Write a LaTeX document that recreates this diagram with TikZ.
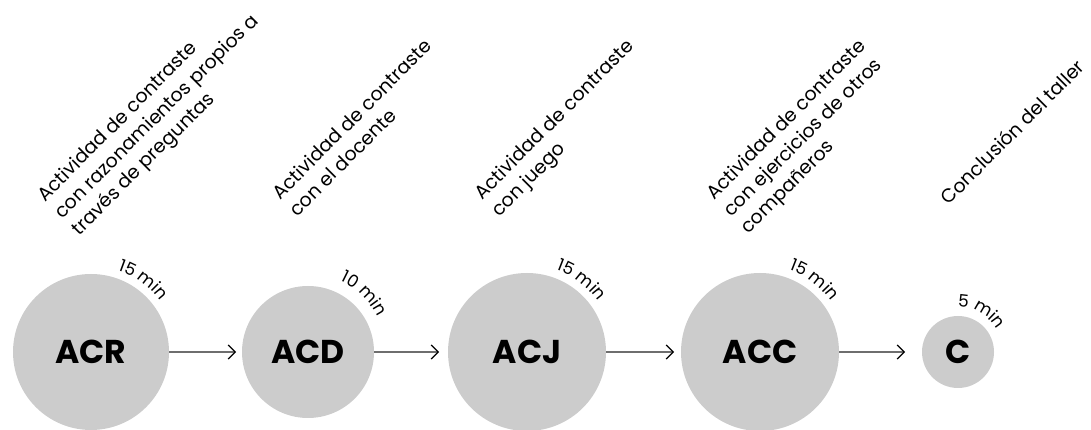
\documentclass[tikz,border=0pt]{standalone}
\usepackage{fontspec}
\setmainfont{Poppins}
\usetikzlibrary{arrows.meta,decorations.text,calc}
\definecolor{circgray}{RGB}{204,204,204}
\definecolor{linegray}{RGB}{110,110,110}
\begin{document}
\begin{tikzpicture}[x=1pt,y=1pt,
  act/.style={circle, fill=circgray, draw=none, inner sep=0pt, outer sep=0pt,
    font=\fontsize{33}{36}\selectfont\bfseries},
  flow/.style={draw=linegray, line width=1.3pt,
    -{Straight Barb[length=7pt,width=14pt,line width=1.2pt,color=black]}},
  lab/.style={rotate=45, anchor=north west, align=left, inner sep=0pt,
    font=\fontsize{19}{24}\selectfont},
  mins/.style={decorate, decoration={text along path, text align=center,
    text={|\fontsize{17}{20}\selectfont|#1}}}
]
\useasboundingbox (0,0) rectangle (1091,430);
% circles
\node[act, minimum size=156pt] (acr) at (91,78) {ACR};
\node[act, minimum size=132pt] (acd) at (308,78) {ACD};
\node[act, minimum size=158pt] (acj) at (527,78) {ACJ};
\node[act, minimum size=158pt] (acc) at (760,78) {ACC};
\node[act, minimum size=72pt] (c) at (958,78) {C};
% arrows
\draw[flow, shorten >=6pt] (acr) -- (acd);
\draw[flow, shorten >=9pt] (acd) -- (acj);
\draw[flow, shorten >=7pt] (acj) -- (acc);
\draw[flow, shorten >=17pt] (acc) -- (c);
% durations
\path[mins={15 min}] ($(acr)+(94:86)$) arc[start angle=94, end angle=14, radius=86];
\path[mins={10 min}] ($(acd)+(86:78)$) arc[start angle=86, end angle=6, radius=78];
\path[mins={15 min}] ($(acj)+(93:87)$) arc[start angle=93, end angle=13, radius=87];
\path[mins={15 min}] ($(acc)+(93:87)$) arc[start angle=93, end angle=13, radius=87];
\path[mins={5 min}] ($(c)+(110:45)$) arc[start angle=110, end angle=10, radius=45];
% labels
\node[lab] (lacr) at (35,238) {Actividad de contraste\\con razonamientos propios a\\través de preguntas};
\node[lab] (lacd) at (270,240) {Actividad de contraste\\con el docente};
\node[lab] (lacj) at (472,240) {Actividad de contraste\\con juego};
\node[lab] (lacc) at (704,240) {Actividad de contraste\\con ejercicios de otros\\compañeros};
\node[lab] (lc) at (938,235) {Conclusión del taller};
\end{tikzpicture}
\end{document}
